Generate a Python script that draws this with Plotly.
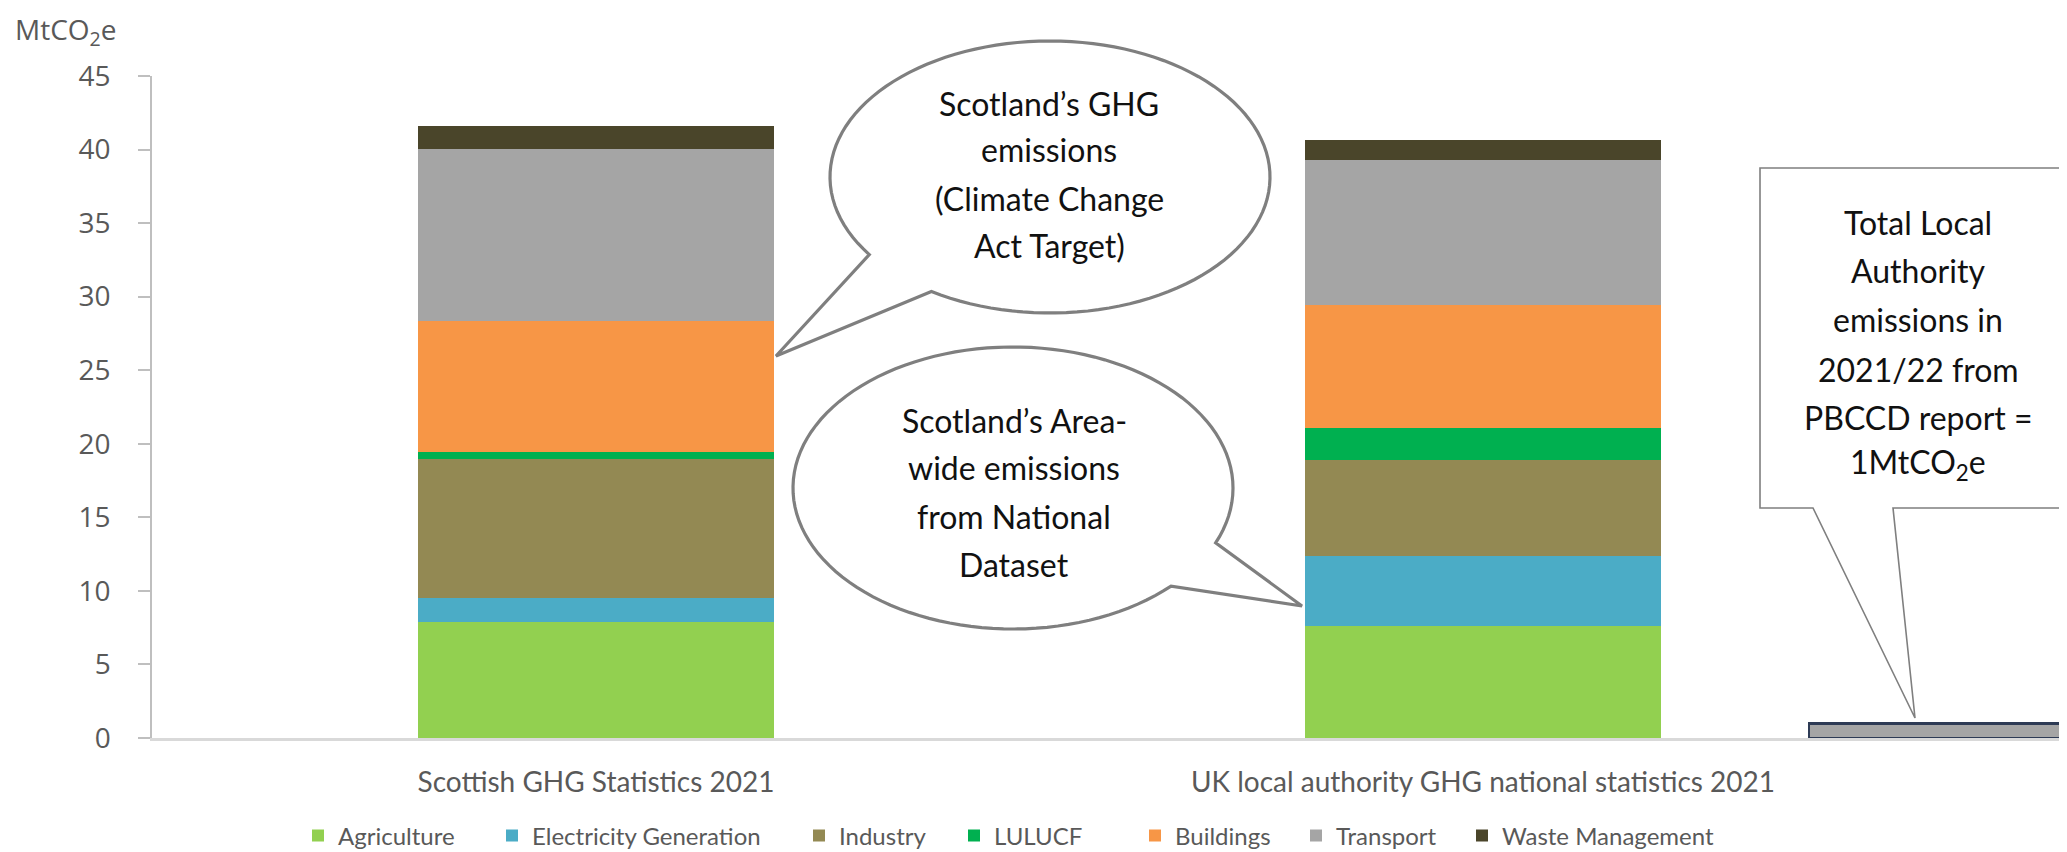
import numpy as np
import plotly.graph_objects as go

# ---------------- data ----------------
categories = ["Scottish GHG Statistics 2021", "UK local authority GHG national statistics 2021"]
sectors = ["Agriculture", "Electricity Generation", "Industry", "LULUCF", "Buildings", "Transport", "Waste Management"]
scottish_ghg_2021 = [7.86, 1.63, 9.46, 0.46, 8.94, 11.66, 1.57]
uk_la_2021 = [7.61, 4.78, 6.54, 2.11, 8.38, 9.85, 1.40]
sector_colors = ["#92D050", "#4BACC6", "#938953", "#00B050", "#F79646", "#A5A5A5", "#4A452A"]
local_authority_total = [1.0]
y_ticks = [0, 5, 10, 15, 20, 25, 30, 35, 40, 45]

# ---------------- geometry (page pixels; page body has an 8px margin) ----------------
O = 8
W, H = 2067 - O, 852 - O
L = 152 - O
T = 76 - O
B = H - (738 - O)
R = 0
PW, PH = W - L - R, H - T - B


def px(x):
    return (x - O - L) / PW


def py(y):
    return (H - B - (y - O)) / PH


unit = 887.0
bar_w = 356 / unit
x_pos = [0, 1]
x_la = (1809 - 596) / unit + bar_w / 2

fig = go.Figure()
for i, (name, col) in enumerate(zip(sectors, sector_colors)):
    fig.add_trace(go.Bar(
        x=x_pos, y=[scottish_ghg_2021[i], uk_la_2021[i]], name=name,
        marker=dict(color=col, line=dict(width=0)), width=bar_w,
        legend="legend" if i == 0 else f"legend{i+1}",
    ))
fig.add_trace(go.Bar(
    x=[x_la], y=local_authority_total, width=bar_w, showlegend=False,
    marker=dict(color="#A5A5A5", line=dict(color="#2E3B55", width=2.5)),
    name="Total Local Authority emissions",
))

# ---------------- legends (one per item, to reproduce spacing) ----------------
legend_text_start = [336, 530, 837, 992, 1173, 1334, 1500]
legend_layout = {}
for i, xs in enumerate(legend_text_start):
    key = "legend" if i == 0 else f"legend{i+1}"
    legend_layout[key] = dict(
        x=(xs - O - 38) / W, xref="container", xanchor="left",
        y=1 - (836 - O) / H, yref="container", yanchor="middle",
        orientation="h", bgcolor="rgba(0,0,0,0)", borderwidth=0,
        font=dict(family="Lato", size=24, color="#595959"),
        itemclick=False,
    )

# ---------------- callout shapes ----------------
def bubble(cx, cy, rx, ry, t_start, t_end, tip):
    ts = np.radians(np.linspace(t_start, t_end, 120))
    pts = [(cx + rx * np.cos(t), cy + ry * np.sin(t)) for t in ts]
    pts.append(tip)
    return "M " + " L ".join(f"{px(a):.5f},{py(b):.5f}" for a, b in pts) + " Z"


def ang(cx, cy, rx, ry, p):
    return np.degrees(np.arctan2((p[1] - cy) / ry, (p[0] - cx) / rx))


shapes = []
c1 = (1050, 177, 220, 136)
a1 = ang(*c1, (873, 253)) % 360
a2 = ang(*c1, (933, 290)) % 360
shapes.append(dict(type="path", path=bubble(*c1, a1, a2 + 360, (776, 356)),
                   xref="paper", yref="paper", fillcolor="white",
                   line=dict(color="#7F7F7F", width=3.2), layer="above"))
c2 = (1013, 488, 220, 141)
b1 = ang(*c2, (1171, 586)) % 360
b2 = ang(*c2, (1216, 543)) % 360
shapes.append(dict(type="path", path=bubble(*c2, b1, b2 + 360, (1302, 606)),
                   xref="paper", yref="paper", fillcolor="white",
                   line=dict(color="#7F7F7F", width=3.2), layer="above"))
box_pts = [(1813, 508), (1760, 508), (1760, 168), (2100, 168), (2100, 508), (1893, 508), (1915, 718)]
box_path = "M " + " L ".join(f"{px(a):.5f},{py(b):.5f}" for a, b in box_pts) + " Z"
shapes.append(dict(type="path", path=box_path, xref="paper", yref="paper",
                   fillcolor="white", line=dict(color="#7F7F7F", width=1.6), layer="above"))

# ---------------- annotations ----------------
ann = []
callout_font = dict(family="Lato", size=32, color="#111111")


def lines(cx, ys, texts):
    for yv, t in zip(ys, texts):
        ann.append(dict(text=t, x=px(cx), y=py(yv), xref="paper", yref="paper",
                        showarrow=False, xanchor="center", yanchor="middle", font=callout_font))


lines(1049, [103, 150, 198, 245], ["Scotland’s GHG", "emissions", "(Climate Change", "Act Target)"])
lines(1014, [420, 468, 516, 564], ["Scotland’s Area-", "wide emissions", "from National", "Dataset"])
lines(1918, [222, 270, 319, 369, 417, 464],
      ["Total Local", "Authority", "emissions in", "2021/22 from", "PBCCD report =", "1MtCO<sub>2</sub>e"])

ann.append(dict(text="MtCO<sub>2</sub>e", x=px(14), y=py(31), xref="paper", yref="paper",
                showarrow=False, xanchor="left", yanchor="middle", borderpad=0,
                font=dict(family="Open Sans", size=28, color="#595959")))

fig.update_layout(
    width=W, height=H, barmode="stack",
    margin=dict(l=L, r=R, t=T, b=B, autoexpand=False),
    paper_bgcolor="white", plot_bgcolor="white",
    shapes=shapes, annotations=ann,
    xaxis=dict(range=[-(596 - 152) / unit, (2067 - 596) / unit], tickvals=x_pos, ticktext=categories,
               showline=True, linecolor="#D9D9D9", linewidth=2.5, showgrid=False, zeroline=False,
               ticks="", tickfont=dict(family="Lato", size=28, color="#595959"),
               ticklabelstandoff=18),
    yaxis=dict(range=[0, 45], tickvals=y_ticks, showline=True, linecolor="#BFBFBF", linewidth=1.5,
               ticks="outside", ticklen=12, tickcolor="#BFBFBF", tickwidth=1.5,
               showgrid=False, zeroline=False,
               tickfont=dict(family="Open Sans", size=28, color="#595959"), ticklabelstandoff=22),
    **legend_layout,
)

fig.write_html("out.html")
